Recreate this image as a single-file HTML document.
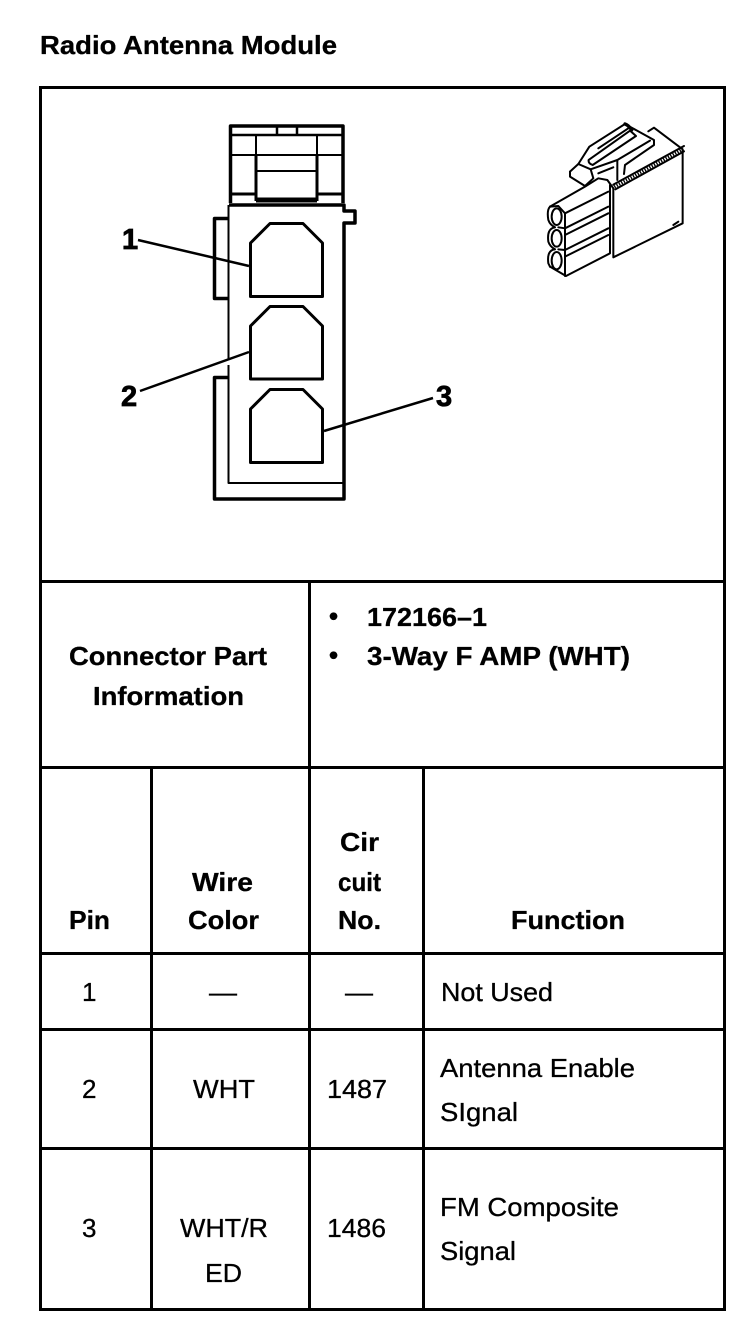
<!DOCTYPE html>
<html><head><meta charset="utf-8"><style>
html,body{margin:0;padding:0;background:#fff}
svg{display:block}
text{font-family:"Liberation Sans",sans-serif;font-size:26px;fill:#000;stroke:#000;stroke-width:.3px}
.b{font-weight:bold}
.n{font-size:29px;stroke-width:.8px}
</style></head><body>
<svg width="752" height="1328" viewBox="0 0 752 1328" xmlns="http://www.w3.org/2000/svg">
<rect width="752" height="1328" fill="#fff"/>
<text class="b" x="40" y="54" textLength="297" lengthAdjust="spacingAndGlyphs">Radio Antenna Module</text>

<!-- table -->
<g stroke="#000" stroke-width="3" fill="none">
<rect x="40.5" y="87.5" width="684" height="1222"/>
<path d="M40 581.5H725M40 767.5H725M40 953.5H725M40 1029.5H725M40 1148.5H725M309.5 581V1310M151.5 767V1310M423.5 767V1310"/>
</g>

<!-- connector front view -->
<g fill="none" stroke="#000" stroke-linejoin="round">
<path stroke-width="3.5" d="M230.500 203V126H343V203"/>
<path stroke-width="2.5" d="M230 135H343M277 126V135M297 126V135"/>
<path stroke-width="2" d="M230 155H343M256 135V155M317 135V155"/>
<path stroke-width="3" d="M256 155V201M317 155V201"/>
<path stroke-width="2" d="M256 171H317"/>
<path stroke-width="3" d="M231 194H256M317 194H343"/>
<path stroke-width="5" d="M256 200H317"/>
<path stroke-width="3.500" d="M229 205H344V211H355V223H344V499H214.500V377.500H229"/>
<path stroke-width="3.500" d="M229 218.500H214.500V298.500H229"/>
<path stroke-width="2" d="M228.500 205V360M228.500 365V483H344"/>
<path stroke-width="3" d="M250.500 243L270 223.500H303L322.500 243V296.500H250.500Z"/>
<path stroke-width="3" d="M250.500 326L270 306.500H303L322.500 326V379H250.500Z"/>
<path stroke-width="3" d="M250.500 409L270 389.500H303L322.500 409V462.500H250.500Z"/>
<path stroke-width="2.500" d="M138 240L249 266M140 391L249 352M324 431L433 398"/>
</g>
<text class="b n" x="122" y="249">1</text>
<text class="b n" x="121" y="406">2</text>
<text class="b n" x="436" y="406">3</text>

<!-- isometric connector -->
<g transform="translate(530 110) scale(.3333)" fill="none" stroke="#000" stroke-width="6" stroke-linejoin="round" stroke-linecap="round">
<path d="M250 235V442L458 340V118L372 53L355 64"/>
<path d="M250 224L462 108M256 238L462 124"/>
<path d="M253 231L462 116" stroke-width="9" stroke-dasharray="4 4" stroke-linecap="butt"/>
<path d="M250 235L232 210L205 205L165 230L60 290M240 225V430L108 498L60 470"/>
<path d="M105 310L235 245M105 355L235 290M105 375L235 310M105 420L235 355M105 440L235 375"/>
<path d="M105 310V498"/>
<path d="M60 290Q50 300 55 330Q60 345 75 352Q50 355 55 395Q60 410 75 418Q50 420 55 460L60 470"/>
<path d="M60 290L85 288L105 310"/>
<path d="M105 355L85 352M105 420L85 418"/>
<ellipse cx="80" cy="320" rx="15" ry="25"/>
<ellipse cx="80" cy="385" rx="15" ry="25"/>
<ellipse cx="80" cy="452" rx="15" ry="26"/>
<path d="M120 185L145 162L178 110L285 42L372 90V105L285 165L282 192"/>
<path d="M120 185V200L165 228L190 205L182 178L145 162"/>
<path d="M182 178L262 150L262 210M205 190L250 172"/>
<path d="M176 150Q174 160 188 165L318 78L300 62Z"/>
<path d="M205 115L295 55M262 150L360 92"/>
<path d="M285 42Q295 45 305 60" stroke-width="10"/>
<path d="M430 345L445 335"/>
</g>

<!-- table text -->
<text class="b" x="69" y="665" textLength="198" lengthAdjust="spacingAndGlyphs">Connector Part</text>
<text class="b" x="93" y="705" textLength="151" lengthAdjust="spacingAndGlyphs">Information</text>
<text class="b" x="329" y="625">•</text>
<text class="b" x="329" y="664">•</text>
<text class="b" x="367" y="626" textLength="120" lengthAdjust="spacingAndGlyphs">172166–1</text>
<text class="b" x="367" y="665" textLength="263" lengthAdjust="spacingAndGlyphs">3-Way F AMP (WHT)</text>

<text class="b" x="69" y="929" textLength="41" lengthAdjust="spacingAndGlyphs">Pin</text>
<text class="b" x="192" y="891" textLength="61" lengthAdjust="spacingAndGlyphs">Wire</text>
<text class="b" x="188" y="929" textLength="71" lengthAdjust="spacingAndGlyphs">Color</text>
<text class="b" x="340" y="851" textLength="39" lengthAdjust="spacingAndGlyphs">Cir</text>
<text class="b" x="338" y="891" textLength="43" lengthAdjust="spacingAndGlyphs">cuit</text>
<text class="b" x="338" y="929" textLength="43" lengthAdjust="spacingAndGlyphs">No.</text>
<text class="b" x="511" y="929" textLength="114" lengthAdjust="spacingAndGlyphs">Function</text>

<text x="82" y="1001">1</text>
<text x="209" y="1001" textLength="28" lengthAdjust="spacingAndGlyphs">—</text>
<text x="345" y="1001" textLength="28" lengthAdjust="spacingAndGlyphs">—</text>
<text x="441" y="1001" textLength="112" lengthAdjust="spacingAndGlyphs">Not Used</text>

<text x="82" y="1098">2</text>
<text x="193" y="1098" textLength="62" lengthAdjust="spacingAndGlyphs">WHT</text>
<text x="327" y="1098" textLength="60" lengthAdjust="spacingAndGlyphs">1487</text>
<text x="440" y="1077" textLength="195" lengthAdjust="spacingAndGlyphs">Antenna Enable</text>
<text x="440" y="1121" textLength="78" lengthAdjust="spacingAndGlyphs">SIgnal</text>

<text x="82" y="1237">3</text>
<text x="180" y="1237" textLength="88" lengthAdjust="spacingAndGlyphs">WHT/R</text>
<text x="205" y="1282" textLength="37" lengthAdjust="spacingAndGlyphs">ED</text>
<text x="327" y="1237" textLength="59" lengthAdjust="spacingAndGlyphs">1486</text>
<text x="440" y="1216" textLength="179" lengthAdjust="spacingAndGlyphs">FM Composite</text>
<text x="440" y="1260" textLength="76" lengthAdjust="spacingAndGlyphs">Signal</text>
</svg>
</body></html>
